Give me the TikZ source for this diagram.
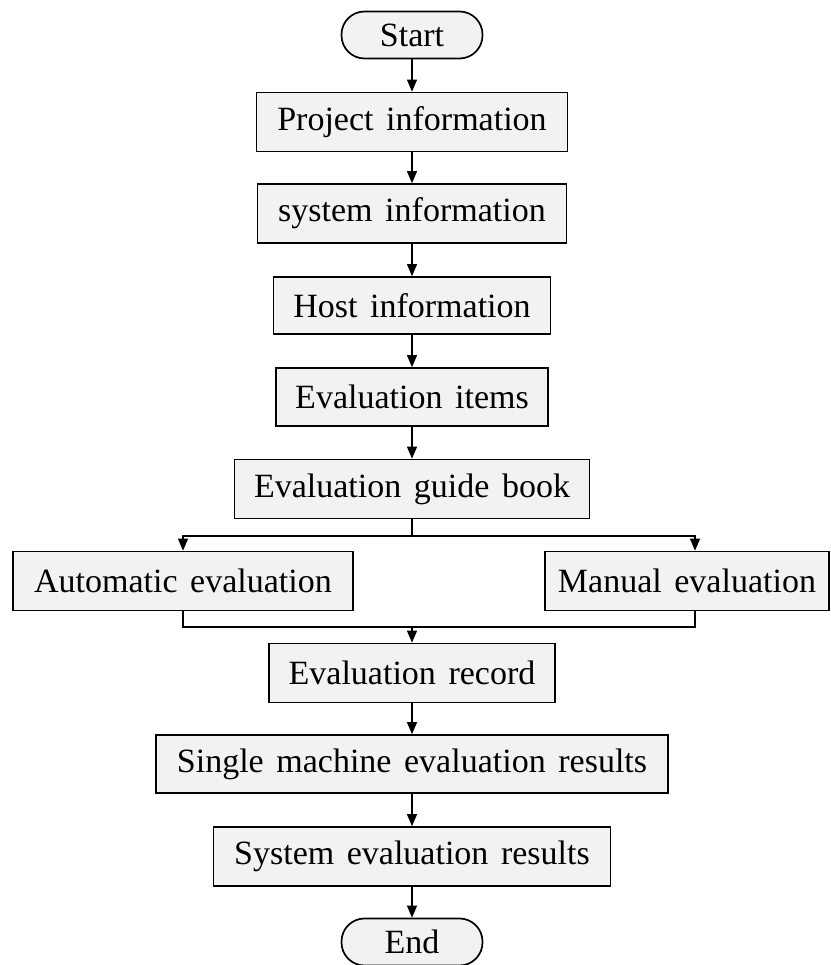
\documentclass[tikz,border=0pt]{standalone}
\usepackage{fontspec}
\setmainfont{Liberation Serif}
\usetikzlibrary{arrows.meta}
\definecolor{boxgray}{RGB}{242,242,242}
\newcommand\boxfont{\fontsize{34}{40}\selectfont\spaceskip 0.37em\relax}
\tikzset{
  stepbox/.style={draw, line width=1.7pt, fill=boxgray, inner sep=0pt,
    minimum height=59pt, font=\boxfont},
  terminal/.style={stepbox, rounded corners=23pt, minimum height=47pt, minimum width=141pt},
  link/.style={line width=1.1pt}
}

\begin{document}
\begin{tikzpicture}[x=1pt,y=-1pt,>={Triangle[length=12pt,width=10pt]}]
  \useasboundingbox (0,0) rectangle (830,965);
  % main column
  \node[terminal] (start) at (412,35) {Start};
  \node[stepbox,minimum width=311] (proj) at (412,122) {Project information};
  \node[stepbox,minimum width=309] (sys) at (412,213.5) {system information};
  \node[stepbox,minimum width=277,minimum height=57] (host) at (412,305.5) {Host information};
  \node[stepbox,minimum width=272,minimum height=58] (items) at (412,397) {Evaluation items};
  \node[stepbox,minimum width=355] (guide) at (412,489) {Evaluation guide book};
  % the two branches
  \node[stepbox,minimum width=340] (auto) at (183,581) {Automatic evaluation};
  \node[stepbox,minimum width=284] (manual) at (687,581) {Manual evaluation};
  \node[stepbox,minimum width=286] (record) at (412,673) {Evaluation record};
  \node[stepbox,minimum width=512,minimum height=58] (single) at (412,764) {Single machine evaluation results};
  \node[stepbox,minimum width=397] (sysres) at (412,856.5) {System evaluation results};
  \node[terminal] (end) at (412,942) {End};
  \coordinate (split) at (412,536);
  \coordinate (join) at (412,627);
  % connectors
  \draw[link,->] (start) -- (proj);
  \draw[link,->] (proj) -- (sys);
  \draw[link,->] (sys) -- (host);
  \draw[link,->] (host) -- (items);
  \draw[link,->] (items) -- (guide);
  \draw[link] (guide) -- (split);
  \draw[link,->] (split) -| (auto.north);
  \draw[link,->] (split) -| ([xshift=8pt]manual.north);
  \draw[link] (auto.south) |- (join);
  \draw[link] ([xshift=8pt]manual.south) |- (join);
  \draw[link,->] (join) -- (record);
  \draw[link,->] (record) -- (single);
  \draw[link,->] (single) -- (sysres);
  \draw[link,->] (sysres) -- (end);
\end{tikzpicture}
\end{document}
